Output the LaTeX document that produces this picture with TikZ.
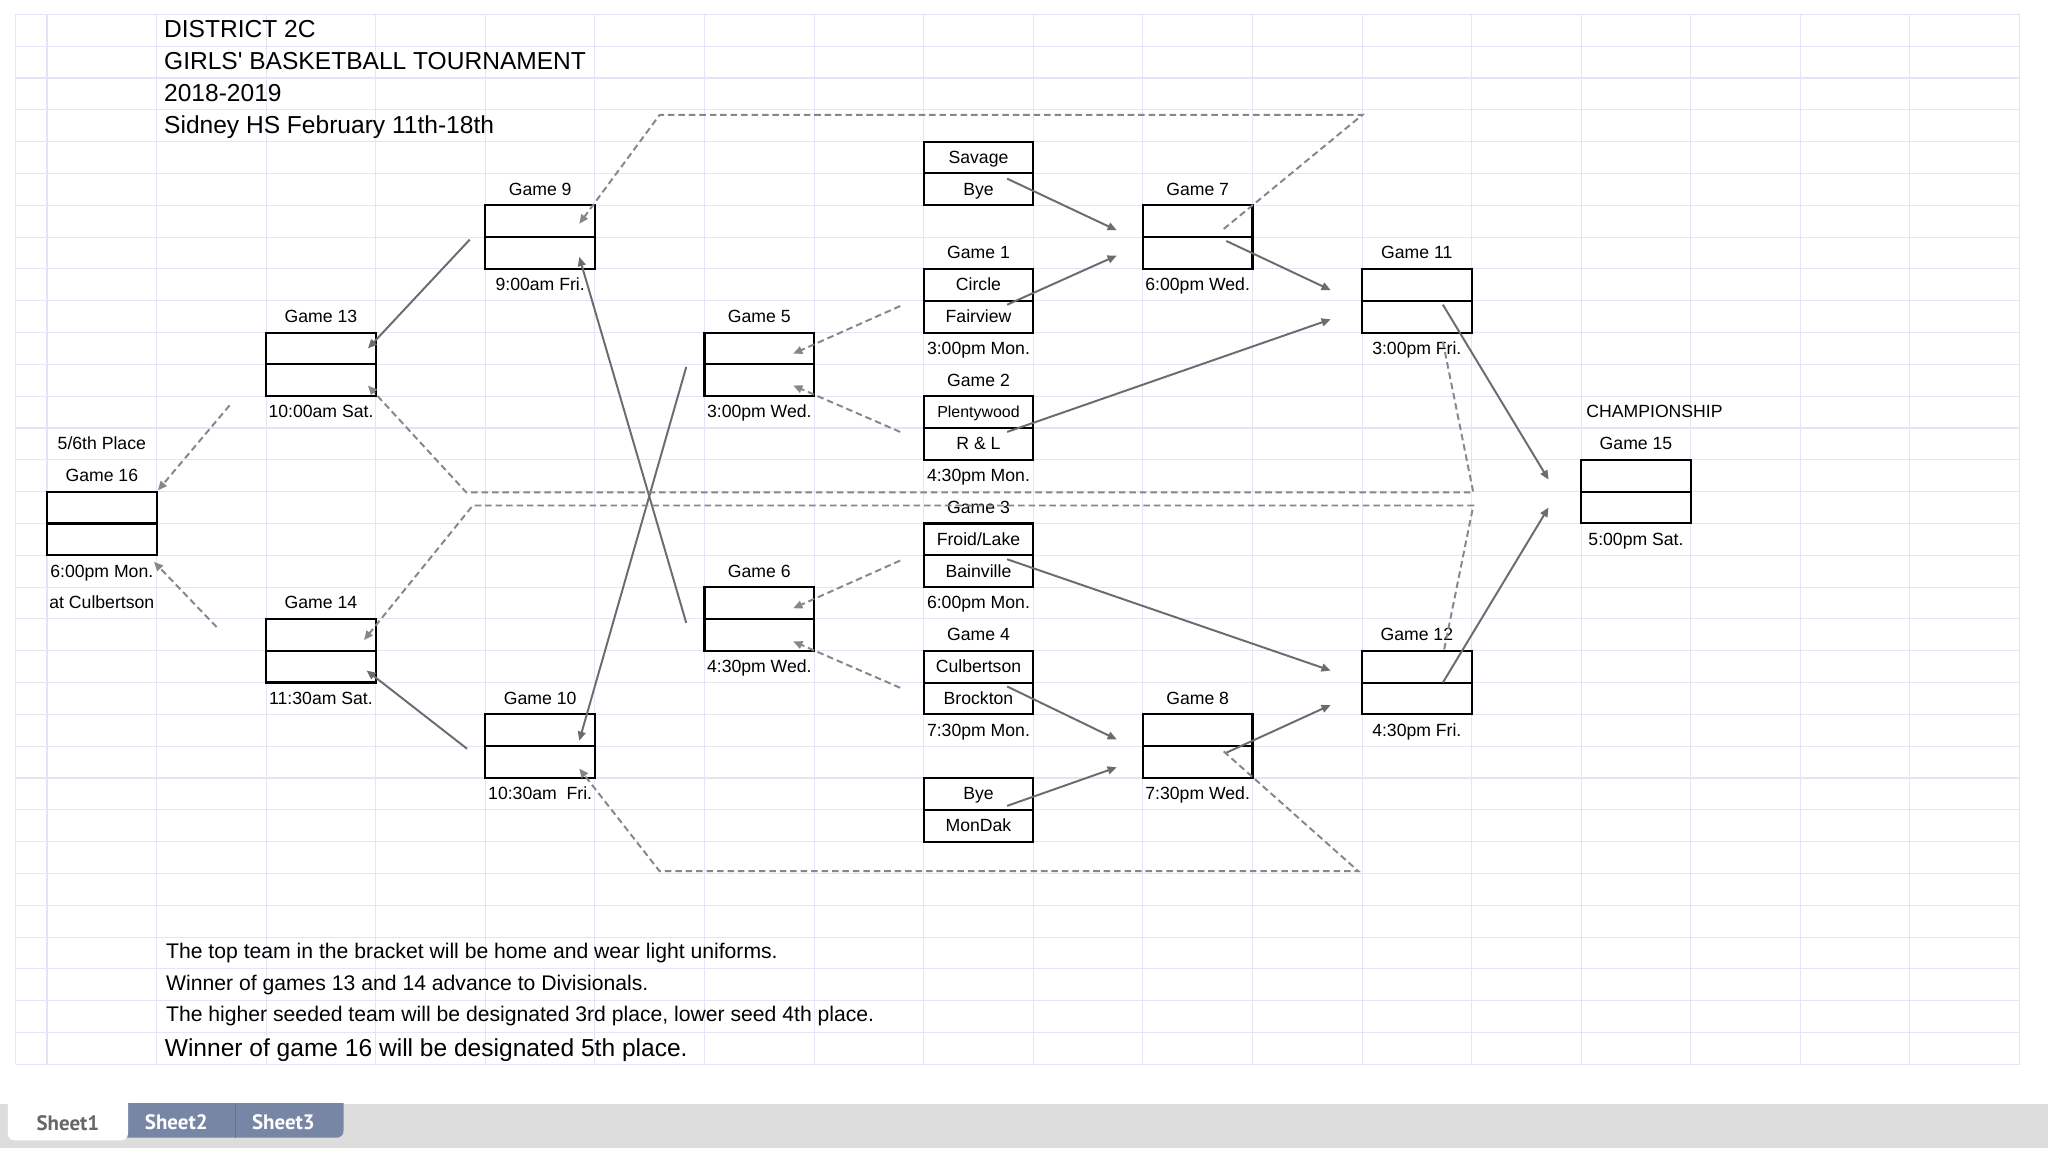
\documentclass[tikz,border=0pt]{standalone}
\usepackage{fontspec}
\setmainfont{Liberation Sans}[Ligatures=TeXOff]
\newfontfamily\tabfont{PT Sans}
\usepackage{tikz}
\usetikzlibrary{arrows.meta}
\usetikzlibrary{positioning}
\definecolor{gridline}{HTML}{E4E4F6}
\definecolor{winline}{HTML}{6C6C6C}
\definecolor{lossline}{HTML}{878787}
\definecolor{tabbar}{HTML}{DDDDDD}
\definecolor{tabblue}{HTML}{7886A6}
\newcommand\gfont{\fontsize{13.5}{15}\selectfont}
\newcommand\hfont{\fontsize{18.8}{21}\selectfont}
\newcommand\nfont{\fontsize{16.2}{18}\selectfont}
\tikzstyle{slot}=[draw,line width=1.6pt,outer sep=0pt,inner sep=0pt,minimum width=83.9pt,minimum height=24.36pt,text height=11.7pt,text depth=2.8pt,font=\gfont]
\tikzstyle{lbl}=[outer sep=0pt,inner sep=0pt,minimum height=24.36pt,text height=11.7pt,text depth=2.8pt,font=\gfont]
\tikzstyle{hdr}=[anchor=west,inner sep=0pt,text height=15.5pt,text depth=4pt,font=\hfont]
\tikzstyle{note}=[anchor=west,inner sep=0pt,text height=11.6pt,text depth=3.4pt,font=\nfont]
\tikzstyle{winhead}=[>={Triangle[length=7pt,width=6pt]}]
\tikzstyle{win}=[line width=1.5pt,winline,winhead,->]
\tikzstyle{loss}=[win,lossline,dash pattern=on 5pt off 3pt]
\tikzstyle{sheet}=[inner sep=0pt,font=\tabfont\bfseries\fontsize{16}{17}\selectfont]

\begin{document}
\begin{tikzpicture}[x=1pt,y=-1pt]
	% sheet and grid
	\fill[white] (0,0) rectangle (1568,879);
	\fill[tabbar] (0,845) rectangle (1568,879);
	\foreach \k in {0,...,33}
		\draw[gridline,line width=.8pt] (12,{11+24.36*\k}) -- (1546.2,{11+24.36*\k});
	\foreach \j in {0,...,18}
		\draw[gridline,line width=.8pt] ({36+83.9*\j},11) -- ({36+83.9*\j},814.9);
	\draw[gridline,line width=.8pt] (12,11) -- (12,814.9);

	% title
	\node[hdr] (hd1) at (125.5,23.2) {DISTRICT 2C};
	\node[hdr] (hd2) at (125.5,47.5) {GIRLS' BASKETBALL TOURNAMENT};
	\node[hdr] (hd3) at (125.5,71.9) {2018-2019};
	\node[hdr] (hd4) at (125.5,96.3) {Sidney HS February 11th-18th};

	% first round
	\node[slot] (sav) at (749.15,120.6) {Savage};
	\node[slot,below=0pt of sav] (bye1) {Bye};
	\node[slot] (cir) at (749.15,218.1) {Circle};
	\node[slot,below=0pt of cir] (fair) {Fairview};
	\node[lbl,above=0pt of cir] (n1) {Game 1};
	\node[lbl,below=0pt of fair] (d1) {3:00pm Mon.};
	\node[slot,font=\fontsize{12.2}{14}\selectfont] (plen) at (749.15,315.5) {Plentywood};
	\node[slot,below=0pt of plen] (rl) {R \& L};
	\node[lbl,above=0pt of plen] (n2) {Game 2};
	\node[lbl,below=0pt of rl] (d2) {4:30pm Mon.};
	\node[slot] (froid) at (749.15,413.0) {Froid/Lake};
	\node[slot,below=0pt of froid] (bain) {Bainville};
	\node[lbl,above=0pt of froid] (n3) {Game 3};
	\node[lbl,below=0pt of bain] (d3) {6:00pm Mon.};
	\node[slot] (culb) at (749.15,510.4) {Culbertson};
	\node[slot,below=0pt of culb] (brock) {Brockton};
	\node[lbl,above=0pt of culb] (n4) {Game 4};
	\node[lbl,below=0pt of brock] (d4) {7:30pm Mon.};
	\node[slot] (bye2) at (749.15,607.8) {Bye};
	\node[slot,below=0pt of bye2] (mon) {MonDak};

	% wednesday
	\node[slot] (g5a) at (581.35,266.8) {};
	\node[slot,below=0pt of g5a] (g5b) {};
	\node[lbl,above=0pt of g5a] (n5) {Game 5};
	\node[lbl,below=0pt of g5b] (d5) {3:00pm Wed.};
	\node[slot] (g6a) at (581.35,461.7) {};
	\node[slot,below=0pt of g6a] (g6b) {};
	\node[lbl,above=0pt of g6a] (n6) {Game 6};
	\node[lbl,below=0pt of g6b] (d6) {4:30pm Wed.};
	\node[slot] (g7a) at (916.95,169.3) {};
	\node[slot,below=0pt of g7a] (g7b) {};
	\node[lbl,above=0pt of g7a] (n7) {Game 7};
	\node[lbl,below=0pt of g7b] (d7) {6:00pm Wed.};
	\node[slot] (g8a) at (916.95,559.1) {};
	\node[slot,below=0pt of g8a] (g8b) {};
	\node[lbl,above=0pt of g8a] (n8) {Game 8};
	\node[lbl,below=0pt of g8b] (d8) {7:30pm Wed.};

	% friday
	\node[slot] (g9a) at (413.55,169.3) {};
	\node[slot,below=0pt of g9a] (g9b) {};
	\node[lbl,above=0pt of g9a] (n9) {Game 9};
	\node[lbl,below=0pt of g9b] (d9) {9:00am Fri.};
	\node[slot] (g10a) at (413.55,559.1) {};
	\node[slot,below=0pt of g10a] (g10b) {};
	\node[lbl,above=0pt of g10a] (n10) {Game 10};
	\node[lbl,below=0pt of g10b] (d10) {10:30am\ \ Fri.};
	\node[slot] (g11a) at (1084.75,218.1) {};
	\node[slot,below=0pt of g11a] (g11b) {};
	\node[lbl,above=0pt of g11a] (n11) {Game 11};
	\node[lbl,below=0pt of g11b] (d11) {3:00pm Fri.};
	\node[slot] (g12a) at (1084.75,510.4) {};
	\node[slot,below=0pt of g12a] (g12b) {};
	\node[lbl,above=0pt of g12a] (n12) {Game 12};
	\node[lbl,below=0pt of g12b] (d12) {4:30pm Fri.};

	% saturday and monday
	\node[slot] (g13a) at (245.75,266.8) {};
	\node[slot,below=0pt of g13a] (g13b) {};
	\node[lbl,above=0pt of g13a] (n13) {Game 13};
	\node[lbl,below=0pt of g13b] (d13) {10:00am Sat.};
	\node[slot] (g14a) at (245.75,486.0) {};
	\node[slot,below=0pt of g14a] (g14b) {};
	\node[lbl,above=0pt of g14a] (n14) {Game 14};
	\node[lbl,below=0pt of g14b] (d14) {11:30am Sat.};
	\node[slot] (g15a) at (1252.55,364.2) {};
	\node[slot,below=0pt of g15a] (g15b) {};
	\node[lbl,above=0pt of g15a] (n15) {Game 15};
	\node[lbl,below=0pt of g15b] (d15) {5:00pm Sat.};
	\node[lbl,anchor=west] (champ) at ([shift={(4,-36.54)}]g15a.north west) {CHAMPIONSHIP};
	\node[slot] (g16a) at (77.95,388.6) {};
	\node[slot,below=0pt of g16a] (g16b) {};
	\node[lbl,above=0pt of g16a] (n16) {Game 16};
	\node[lbl,above=0pt of n16] (p16) {5/6th Place};
	\node[lbl,below=0pt of g16b] (d16) {6:00pm Mon.};
	\node[lbl,below=0pt of d16] (at16) {at Culbertson};

	% winners
	\draw[win] ([shift={(-20,4)}]bye1.north east) -- ([shift={(-20,7)}]g7a.west);
	\draw[win] ([shift={(-20,3)}]fair.north east) -- ([shift={(-20,2)}]g7b.west);
	\draw[win] ([shift={(-20,3)}]rl.north east) -- ([shift={(-24,2)}]g11b.west);
	\draw[win] ([shift={(-20,3)}]bain.north east) -- ([shift={(-24,3)}]g12a.west);
	\draw[win] ([shift={(-20,3)}]brock.north east) -- ([shift={(-20,7)}]g8a.west);
	\draw[win] ([shift={(-20,-3)}]mon.north east) -- ([shift={(-20,4)}]g8b.west);
	\draw[win] ([shift={(-20,3)}]g7b.north east) -- ([shift={(-24,4)}]g11a.west);
	\draw[win] ([shift={(-20,5)}]g8b.north east) -- ([shift={(-24,5)}]g12b.west);
	\draw[win] ([shift={(-22,3)}]g11b.north east) -- ([shift={(-25,3)}]g15a.west);
	\draw[win] ([shift={(-22,0)}]g12b.north east) -- ([shift={(-25,0)}]g15b.west);
	\draw[win] ([shift={(-14,2)}]g5a.south west) -- ([shift={(-12,8)}]g10a.east);
	\draw[win] ([shift={(-14,3)}]g6a.south west) -- ([shift={(-12,3)}]g9b.east);
	\draw[win] ([shift={(-12,2)}]g9a.south west) -- ([shift={(-6,0)}]g13a.east);
	\draw[win] ([shift={(-14,2)}]g10a.south west) -- ([shift={(-7,3)}]g14b.east);

	% losers
	\coordinate (top7) at (1043,88);
	\coordinate (top9) at (505,88);
	\coordinate (bot8) at (1040,667);
	\coordinate (bot10) at (505,667);
	\coordinate (mid11) at (1128,377);
	\coordinate (mid13) at (357,377);
	\coordinate (mid12) at (1128,387);
	\coordinate (mid14) at (362,387);
	\draw[loss] ([shift={(-18,4)}]fair.north west) -- ([shift={(-16,4)}]g5a.east);
	\draw[loss] ([shift={(-18,3)}]rl.north west) -- ([shift={(-16,4)}]g5b.east);
	\draw[loss] ([shift={(-18,4)}]bain.north west) -- ([shift={(-16,4)}]g6a.east);
	\draw[loss] ([shift={(-18,4)}]brock.north west) -- ([shift={(-16,5)}]g6b.east);
	\draw[loss] ([shift={(-22,6)}]g7a.east) -- (top7) -- (top9) -- ([shift={(-12,2)}]g9a.east);
	\draw[loss] ([shift={(-22,4)}]g8a.south east) -- (bot8) -- (bot10) -- ([shift={(-12,5)}]g10b.east);
	\draw[loss] ([shift={(-22,7)}]g11b.south east) -- (mid11) -- (mid13) -- ([shift={(-6,4)}]g13b.east);
	\draw[loss] ([shift={(-21,-1)}]g12a.north east) -- (mid12) -- (mid14) -- ([shift={(-9,4)}]g14a.east);
	\draw[loss] ([shift={(-28,7)}]g13b.south west) -- ([shift={(1,-1)}]g16a.north east);
	\draw[loss] ([shift={(-38,-6)}]g14a.west) -- ([shift={(-2,5)}]g16b.south east);

	% notes
	\node[note] (nt1) at (127,729.6) {The top team in the bracket will be home and wear light uniforms.};
	\node[note] (nt2) at (127,754.0) {Winner of games 13 and 14 advance to Divisionals.};
	\node[note] (nt3) at (127,778.3) {The higher seeded team will be designated 3rd place, lower seed 4th place.};
	\node[note,font=\hfont] (nt4) at (126,804.7) {Winner of game 16 will be designated 5th place.};

	% sheet tabs
	\begin{scope}
		\clip (0,845) rectangle (1568,879);
		\fill[tabblue,rounded corners=5pt] (90,830) rectangle (263,871);
		\draw[tabblue!85!black,line width=.8pt] (180,845) -- (180,871);
		\fill[white,rounded corners=5pt] (6,830) rectangle (98,873);
	\end{scope}
	\node[sheet,text=black!60] (s1) at (52,860) {Sheet1};
	\node[sheet,text=white] (s2) at (135,859) {Sheet2};
	\node[sheet,text=white] (s3) at (217,859) {Sheet3};
\end{tikzpicture}
\end{document}
